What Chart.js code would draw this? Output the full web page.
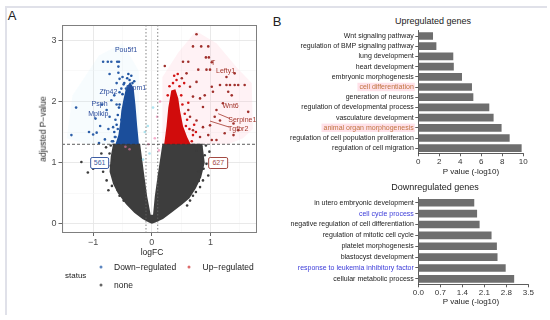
<!DOCTYPE html>
<html>
<head>
<meta charset="utf-8">
<script src="https://cdn.jsdelivr.net/npm/chart.js@4.4.0/dist/chart.umd.min.js"></script>
<style>
  html, body { margin: 0; padding: 0; background: #fff; }
  #fig { position: relative; width: 550px; height: 320px; overflow: hidden; font-family: "Liberation Sans", Arial, sans-serif; color: #222; }
  #fig canvas { position: absolute; }
  .frame { position: absolute; left: 5px; top: 6px; width: 540px; height: 307px; border-top: 2px solid #e0e1e9; border-left: 2px solid #e0e1e9; }
  .t { position: absolute; transform: translate(-50%, -50%); white-space: nowrap; line-height: 1; }
  .l { position: absolute; transform: translate(0, -50%); white-space: nowrap; line-height: 1; }
  .dot { position: absolute; width: 3px; height: 3px; border-radius: 50%; transform: translate(-50%, -50%); }
  .gene { position: absolute; transform: translate(-50%, -50%); white-space: nowrap; font-size: 7px; line-height: 1; }
  .count { position: absolute; transform: translate(-50%, -50%); font-size: 7px; line-height: 1; padding: 1.5px 3px; border-radius: 2px; background: #fff; }
</style>
</head>
<body>
<div id="fig">
  <div class="frame"></div>
  <div class="t" style="left:12px;top:15px;font-size:13px;">A</div>
  <div class="t" style="left:277px;top:21px;font-size:13px;">B</div>

  <canvas id="volcano" width="262" height="265" style="left:0;top:0;"></canvas>
  <div id="volcanoLabels"></div>
  <div class="t" style="left:43px;top:129px;font-size:8.5px;transform:translate(-50%,-50%) rotate(-90deg);">adjusted P&#8722;value</div>
  <div class="t" style="left:152px;top:252px;font-size:8.5px;">logFC</div>

  <div class="l" style="left:65px;top:276px;font-size:8px;">status</div>
  <div class="dot" style="left:101px;top:267px;background:#5c86c0;"></div>
  <div class="l" style="left:114px;top:267px;font-size:8.5px;">Down&#8722;regulated</div>
  <div class="dot" style="left:189px;top:267px;background:#dd6b6b;"></div>
  <div class="l" style="left:202.5px;top:267px;font-size:8.5px;">Up&#8722;regulated</div>
  <div class="dot" style="left:101px;top:285px;background:#666;"></div>
  <div class="l" style="left:114px;top:285px;font-size:8.5px;">none</div>

  <div class="t" style="left:433px;top:21px;font-size:9px;">Upregulated genes</div>
  <canvas id="upBars" width="275" height="145" style="left:270px;top:25px;"></canvas>
  <div class="t" style="left:471px;top:172px;font-size:8px;">P value (-log10)</div>

  <div class="t" style="left:435px;top:187px;font-size:9px;">Downregulated genes</div>
  <canvas id="downBars" width="275" height="110" style="left:270px;top:190px;"></canvas>
  <div class="t" style="left:471px;top:302px;font-size:8px;">P value (-log10)</div>
</div>

<script>
// ---------- Panel A: volcano plot ----------
const xRange = [-1.53, 1.79];
const yRange = [-0.15, 3.25];
const xGrid = [-1.5, -1, -0.5, 0, 0.5, 1, 1.5];
const yGrid = [0, 0.5, 1, 1.5, 2, 2.5, 3];
const xMajor = [-1, 0, 1];
const yMajor = [0, 1, 2, 3];
const pCutoff = 1.3;
const fcCutoff = [-0.1, 0.1];

// dense cloud of non-significant genes (outline of the point mass)
const nonePolyX = [-0.20, -0.66, -0.70, -0.72, -0.66, -0.58, -0.44, -0.30, -0.16, -0.05, 0, 0.06, 0.19, 0.36, 0.52, 0.64, 0.75, 0.84, 0.90, 0.86, 0.18, 0.10, 0.05, 0.02, -0.02, -0.08, -0.13, -0.20];
const nonePolyY = [1.31, 1.31, 1.10, 0.85, 0.65, 0.50, 0.32, 0.18, 0.08, 0.02, 0, 0.02, 0.08, 0.20, 0.32, 0.42, 0.58, 0.76, 1.00, 1.31, 1.31, 0.80, 0.45, 0.15, 0.15, 0.45, 0.80, 1.31];
const noneX = [-1.20, -1.09, -1.00, -0.83, -0.74, -0.86, -0.72, -0.66, -0.77, -0.60, -0.55, -0.78, -0.70, -0.64, -0.68, -0.48, -0.58, -0.92, -0.65, -0.70,
               0.87, 0.96, 0.82, 0.70, 0.93, 0.76, 0.84, 0.65, 0.79, 1.00, 0.98, 0.90, 0.88, 0.75, 0.60, 0.92, 1.03, 0.72, 0.80, 0.85];
const noneY = [1.01, 0.84, 0.90, 0.85, 0.55, 1.15, 1.15, 1.04, 0.71, 0.66, 0.46, 1.25, 0.95, 0.80, 0.62, 0.38, 0.55, 1.05, 1.20, 1.28,
               0.71, 0.79, 0.60, 0.46, 0.98, 1.20, 1.26, 0.38, 0.85, 1.05, 1.18, 1.12, 0.90, 0.52, 0.30, 1.28, 0.95, 0.65, 0.70, 1.00];

// down-regulated
const downPolyX = [-0.22, -0.62, -0.57, -0.54, -0.52, -0.48, -0.44, -0.37, -0.31, -0.28, -0.25, -0.22];
const downPolyY = [1.30, 1.30, 1.45, 1.65, 1.85, 2.05, 2.22, 2.32, 2.22, 1.95, 1.60, 1.30];
const downEdgeX = [-0.66, -0.64, -0.60, -0.58, -0.55, -0.50, -0.47, -0.42, -0.38, -0.35, -0.33, -0.46, -0.52, -0.40, -0.30, -0.62, -0.56];
const downEdgeY = [1.35, 1.50, 1.62, 1.78, 1.95, 2.12, 2.30, 2.38, 2.35, 2.42, 2.30, 2.00, 1.70, 2.45, 2.33, 1.42, 1.90];
const downX = [-0.83, -0.75, -0.69, -0.59, -0.56, -0.57, -0.72, -0.57, -0.55, -1.29, -1.37, -1.07, -1.00, -0.94, -0.77, -0.72, -0.66, -0.74, -0.63,
               -0.69, -0.64, -0.52, -0.48, -0.44, -0.41, -0.60, -0.62, -0.58, -0.68, -0.80, -0.90, -0.55, -0.50, -0.60, -0.85, -0.88, -0.96];
const downY = [2.65, 2.65, 2.65, 2.65, 2.65, 2.57, 2.45, 2.47, 2.37, 1.90, 1.45, 1.50, 1.46, 1.49, 1.86, 1.75, 1.58, 1.55, 1.42,
               2.02, 2.10, 2.21, 2.28, 2.21, 2.25, 1.95, 1.70, 1.55, 1.35, 1.38, 1.32, 2.15, 2.40, 2.30, 1.95, 1.60, 1.72];

// up-regulated
const upPolyX = [0.21, 0.66, 0.60, 0.53, 0.48, 0.45, 0.40, 0.33, 0.28, 0.25, 0.21];
const upPolyY = [1.30, 1.30, 1.42, 1.60, 1.85, 2.05, 2.20, 2.18, 1.90, 1.60, 1.30];
const upEdgeX = [0.68, 0.70, 0.64, 0.60, 0.56, 0.52, 0.50, 0.47, 0.42, 0.36, 0.30, 0.27, 0.55, 0.62, 0.58, 0.44, 0.38, 0.75, 0.72];
const upEdgeY = [1.35, 1.45, 1.55, 1.70, 1.80, 1.95, 2.10, 2.25, 2.35, 2.30, 2.25, 2.10, 2.30, 1.98, 1.60, 2.45, 2.42, 1.50, 1.62];
const upX = [0.76, 0.70, 0.84, 0.96, 0.53, 0.62, 0.92, 0.97, 1.02, 0.79, 0.93, 0.99, 1.27, 1.41, 1.16, 1.27, 1.33, 1.41, 1.47, 1.58,
             1.30, 1.36, 1.02, 1.04, 1.21, 1.64, 1.07, 0.99, 1.10, 1.16, 1.39, 1.47, 1.24, 1.39, 0.96, 1.02, 1.10, 0.87, 0.82, 0.90,
             0.70, 0.65, 0.59, 0.51, 0.76, 0.62, 0.76, 0.87, 0.70, 0.82, 0.65, 0.22];
const upY = [3.10, 2.90, 2.90, 2.90, 2.65, 2.65, 2.72, 2.72, 2.64, 2.52, 2.52, 2.52, 2.40, 2.46, 2.27, 2.27, 2.27, 2.27, 2.27, 2.27,
             2.16, 2.10, 2.24, 2.16, 1.97, 1.83, 1.75, 1.61, 1.86, 1.69, 1.64, 1.53, 1.48, 1.45, 1.45, 1.37, 1.37, 1.91, 2.05, 2.10,
             2.08, 2.24, 2.46, 2.38, 2.32, 1.86, 1.69, 1.58, 1.53, 1.42, 1.75, 2.58];

// faint points near the fold-change cut-offs
const pinkX = [0.05, 0.12, 0.09, -0.38, -0.45, 0.14, -0.06];
const pinkY = [1.40, 1.20, 1.75, 1.22, 1.26, 2.00, 1.30];
const cyanX = [-0.07, -0.15, -0.12, 0.02, -0.04];
const cyanY = [1.60, 1.05, 1.50, 1.90, 1.15];

// label background haze
const pinkShadeX = [0.18, 0.18, 0.45, 0.75, 1.10, 1.45, 1.70, 1.72, 1.55, 1.30];
const pinkShadeY = [1.30, 2.40, 2.80, 3.15, 2.95, 2.55, 2.30, 1.55, 1.40, 1.30];
const cyanShadeX = [-0.22, -0.22, -0.50, -0.90, -1.35, -1.45, -1.10, -0.70];
const cyanShadeY = [1.30, 2.50, 2.95, 2.75, 2.10, 1.40, 1.30, 1.30];

// gene labels
const geneNames = ["Pou5f1", "Npm1", "Zfp42", "Psph", "Mplkip", "T", "Lefty1", "Wnt6", "Serpine1", "Tgfbr2"];
const geneX = [-0.44, -0.255, -0.74, -0.89, -0.91, 1.045, 1.255, 1.34, 1.54, 1.47];
const geneY = [2.85, 2.23, 2.17, 1.98, 1.81, 2.64, 2.52, 1.95, 1.72, 1.57];
const geneUp = [false, false, false, false, false, true, true, true, true, true];
const leaderX0 = [1.13, 0.99];
const leaderY0 = [1.80, 1.68];
const leaderX1 = [1.33, 1.32];
const leaderY1 = [1.72, 1.58];

const countLabels = ["561", "627"];
const countX = [-0.89, 1.13];
const countY = [1.0, 1.0];

// ---------- Panel B: GO enrichment ----------
const upLabels = ["Wnt signaling pathway", "regulation of BMP signaling pathway", "lung development", "heart development",
                  "embryonic morphogenesis", "cell differentiation", "generation of neurons", "regulation of developmental process",
                  "vasculature development", "animal organ morphogenesis", "regulation of cell population proliferation",
                  "regulation of cell migration"];
const upValues = [1.37, 1.69, 3.30, 3.35, 4.13, 5.08, 5.21, 6.73, 7.14, 7.90, 8.67, 9.81];
const upTicks = [0, 2, 4, 6, 8, 10];
const upHighlight = ["cell differentiation", "animal organ morphogenesis"];

const downLabels = ["in utero embryonic development", "cell cycle process", "negative regulation of cell differentiation",
                    "regulation of mitotic cell cycle", "platelet morphogenesis", "blastocyst development",
                    "response to leukemia inhibitory factor", "cellular metabolic process"];
const downValues = [1.77, 1.86, 1.94, 2.32, 2.49, 2.51, 2.77, 3.04];
const downTicks = [0, 0.7, 1.4, 2.1, 2.8, 3.5];
const downHighlight = ["cell cycle process", "response to leukemia inhibitory factor"];

Chart.defaults.font.family = "'Liberation Sans', Arial, sans-serif";

function pts(xs, ys) {
    return xs.map((x, i) => ({ x: x, y: ys[i] }));
}

function minus(v) {
    return v < 0 ? "\u2212" + Math.abs(v) : String(v);
}

// polygon datasets: the points are placed by the scales, the fill is drawn by polyFill below
function poly(xs, ys, color, order) {
    return { data: pts(xs, ys), showLine: false, pointRadius: 0, polyColor: color, order: order };
}

function dots(xs, ys, color, order, r) {
    return { data: pts(xs, ys), showLine: false, backgroundColor: color, borderWidth: 0,
             pointRadius: r || 1.3, order: order };
}

function segment(x0, y0, x1, y1, color, dash, order) {
    return { data: [{ x: x0, y: y0 }, { x: x1, y: y1 }], showLine: true, fill: false, borderColor: color,
             borderWidth: 0.8, borderDash: dash, pointRadius: 0, order: order };
}

const polyFill = {
    id: "polyFill",
    beforeDatasetDraw(chart, args) {
        const ds = chart.data.datasets[args.index];
        if (!ds.polyColor) return;
        const { ctx, chartArea: a } = chart;
        const el = args.meta.data;
        ctx.save();
        ctx.beginPath();
        ctx.rect(a.left, a.top, a.width, a.height);
        ctx.clip();
        ctx.beginPath();
        el.forEach((p, i) => (i === 0 ? ctx.moveTo(p.x, p.y) : ctx.lineTo(p.x, p.y)));
        ctx.closePath();
        ctx.fillStyle = ds.polyColor;
        ctx.fill();
        ctx.restore();
    }
};

// html labels for genes and counts
const labelBox = document.getElementById("volcanoLabels");
geneNames.forEach((name, i) => {
    const el = document.createElement("div");
    el.className = "gene";
    el.id = "gene" + i;
    el.textContent = name;
    el.style.color = geneUp[i] ? "#a3352b" : "#2c4c9c";
    labelBox.appendChild(el);
});
countLabels.forEach((txt, i) => {
    const el = document.createElement("div");
    el.className = "count";
    el.id = "count" + i;
    el.textContent = txt;
    el.style.color = i === 0 ? "#3d5da3" : "#a34a43";
    el.style.border = "1px solid " + (i === 0 ? "#3d5da3" : "#a34a43");
    labelBox.appendChild(el);
});

const htmlLabels = {
    id: "htmlLabels",
    afterRender(chart) {
        const sx = chart.scales.x, sy = chart.scales.y;
        geneNames.forEach((n, i) => {
            const el = document.getElementById("gene" + i);
            el.style.left = sx.getPixelForValue(geneX[i]) + "px";
            el.style.top = sy.getPixelForValue(geneY[i]) + "px";
        });
        countLabels.forEach((n, i) => {
            const el = document.getElementById("count" + i);
            el.style.left = sx.getPixelForValue(countX[i]) + "px";
            el.style.top = sy.getPixelForValue(countY[i]) + "px";
        });
    }
};

const panelBorder = {
    id: "panelBorder",
    afterDatasetsDraw(chart) {
        const { ctx, chartArea: a } = chart;
        ctx.save();
        ctx.strokeStyle = "#7f7f7f";
        ctx.lineWidth = 1;
        ctx.strokeRect(a.left + 0.5, a.top + 0.5, a.width - 1, a.height - 1);
        ctx.restore();
    }
};

const volcanoSets = [
    segment(xRange[0], pCutoff, xRange[1], pCutoff, "#333", [3, 2], 0),
    segment(fcCutoff[0], yRange[0], fcCutoff[0], yRange[1], "#666", [1.5, 2], 0),
    segment(fcCutoff[1], yRange[0], fcCutoff[1], yRange[1], "#666", [1.5, 2], 0),
    segment(leaderX0[0], leaderY0[0], leaderX1[0], leaderY1[0], "#a3352b", [], 1),
    segment(leaderX0[1], leaderY0[1], leaderX1[1], leaderY1[1], "#a3352b", [], 1),
    dots(upX, upY, "#a0302c", 2),
    dots(upEdgeX, upEdgeY, "#d31414", 3),
    poly(upPolyX, upPolyY, "#d10c0c", 4),
    dots(downX, downY, "#2c5ea8", 5),
    dots(downEdgeX, downEdgeY, "#1d52a0", 5),
    poly(downPolyX, downPolyY, "#1b4e9b", 6),
    dots(pinkX, pinkY, "rgba(240,120,170,0.6)", 7),
    dots(cyanX, cyanY, "rgba(120,210,230,0.6)", 7),
    dots(noneX, noneY, "#3c3c3c", 8),
    poly(nonePolyX, nonePolyY, "#3d3d3d", 9),
    poly(pinkShadeX, pinkShadeY, "rgba(255,190,205,0.2)", 10),
    poly(cyanShadeX, cyanShadeY, "rgba(200,235,245,0.15)", 10)
];

new Chart(document.getElementById("volcano"), {
    type: "scatter",
    data: { datasets: volcanoSets },
    plugins: [polyFill, panelBorder, htmlLabels],
    options: {
        responsive: false,
        animation: false,
        events: [],
        layout: { padding: { top: 25, right: 5, left: 0, bottom: 0 } },
        plugins: { legend: { display: false }, tooltip: { enabled: false } },
        scales: {
            x: {
                type: "linear", min: xRange[0], max: xRange[1],
                afterBuildTicks: (s) => { s.ticks = xGrid.map((v) => ({ value: v })); },
                afterFit: (s) => { s.height = 32; },
                ticks: { callback: (v) => (xMajor.includes(v) ? minus(v) : ""), font: { size: 9 }, color: "#4d4d4d",
                         padding: 1, maxRotation: 0, autoSkip: false },
                grid: {
                    color: (c) => (c.tick && xMajor.includes(c.tick.value) ? "#e6e6e6" : "#f2f2f2"),
                    lineWidth: (c) => (c.tick && xMajor.includes(c.tick.value) ? 0.9 : 0.5),
                    tickColor: (c) => (c.tick && xMajor.includes(c.tick.value) ? "#555" : "rgba(0,0,0,0)"),
                    tickLength: 3
                },
                border: { display: false }
            },
            y: {
                type: "linear", min: yRange[0], max: yRange[1],
                afterBuildTicks: (s) => { s.ticks = yGrid.map((v) => ({ value: v })); },
                afterFit: (s) => { s.width = 62; },
                ticks: { callback: (v) => (yMajor.includes(v) ? minus(v) : ""), font: { size: 9 }, color: "#4d4d4d",
                         padding: 2, autoSkip: false },
                grid: {
                    color: (c) => (c.tick && yMajor.includes(c.tick.value) ? "#e6e6e6" : "#f2f2f2"),
                    lineWidth: (c) => (c.tick && yMajor.includes(c.tick.value) ? 0.9 : 0.5),
                    tickColor: (c) => (c.tick && yMajor.includes(c.tick.value) ? "#555" : "rgba(0,0,0,0)"),
                    tickLength: 3.5
                },
                border: { display: false }
            }
        }
    }
});

// ---------- Bar charts ----------
function makeBars(canvasId, labels, values, xTicks, highlight, hiColor, hiBackdrop, fmt, pad) {
    new Chart(document.getElementById(canvasId), {
        type: "bar",
        data: { labels: labels, datasets: [{ data: values, backgroundColor: "#6e6e6e", barThickness: 7 }] },
        options: {
            indexAxis: "y",
            responsive: false,
            animation: false,
            events: [],
            layout: { padding: { top: pad.top, right: pad.right, left: 0, bottom: 0 } },
            plugins: { legend: { display: false }, tooltip: { enabled: false } },
            scales: {
                x: {
                    type: "linear", min: xTicks[0], max: xTicks[xTicks.length - 1],
                    afterBuildTicks: (s) => { s.ticks = xTicks.map((v) => ({ value: v })); },
                    afterFit: (s) => { s.height = pad.axisH; },
                    ticks: { callback: fmt, font: { size: 8 }, color: "#333", padding: 1, maxRotation: 0, autoSkip: false },
                    grid: { drawOnChartArea: false, tickLength: 3, color: "#333", lineWidth: 0.8 },
                    border: { color: "#333", width: 0.8 }
                },
                y: {
                    afterFit: (s) => { s.width = 148.3; },
                    ticks: {
                        font: { size: 7 },
                        color: (c) => (highlight.includes(labels[c.index]) ? hiColor : "#222"),
                        padding: 1.5,
                        autoSkip: false,
                        showLabelBackdrop: true,
                        backdropColor: (c) => (hiBackdrop && highlight.includes(labels[c.index]) ? hiBackdrop : "rgba(0,0,0,0)"),
                        backdropPadding: { top: 0, bottom: 0, left: 2, right: 1 }
                    },
                    grid: { drawOnChartArea: false, offset: false, tickLength: 3, color: "#333", lineWidth: 0.8 },
                    border: { color: "#333", width: 0.8 }
                }
            }
        }
    });
}

makeBars("upBars", upLabels, upValues, upTicks, upHighlight, "#c0733f", "rgba(255,218,228,0.8)",
         (v) => String(v), { top: 5.9, right: 21.7, axisH: 16.7 });
makeBars("downBars", downLabels, downValues, downTicks, downHighlight, "#3b3bd9", null,
         (v) => v.toFixed(1), { top: 7.3, right: 16.7, axisH: 15.7 });
</script>
</body>
</html>
